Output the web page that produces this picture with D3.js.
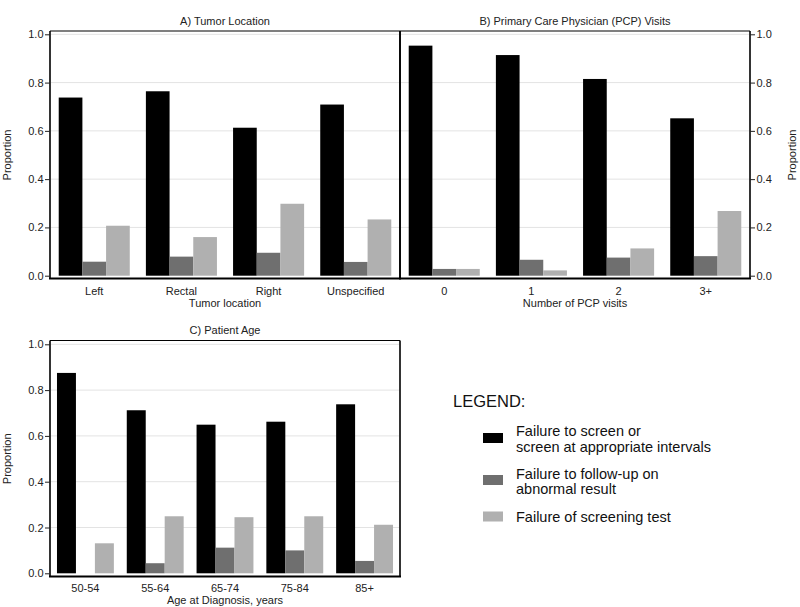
<!DOCTYPE html>
<html lang="en">
<head>
    <meta charset="UTF-8">
    <title>Failure proportions by tumor location, PCP visits and age</title>
    <script src="https://d3js.org/d3.v7.min.js"></script>
    <style>
        body { margin: 0; background: #fff; }
        svg { display: block; font-family: Arial, "Liberation Sans", sans-serif; }
        .grid line { stroke: #e3e3e3; stroke-width: 1; }
        .axis path { display: none; }
        .axis line { stroke: #222; }
        .axis text { font-size: 11px; fill: #222; }
    </style>
</head>
<body>
    <div id="chart"></div>

    <script>
        // series (same order in every panel)
        const seriesNames = [
            ["Failure to screen or", "screen at appropriate intervals"],
            ["Failure to follow-up on", "abnormal result"],
            ["Failure of screening test"]
        ];
        const seriesColors = ["#000000", "#6f6f6f", "#b0b0b0"];
        const yTicks = [0, 0.2, 0.4, 0.6, 0.8, 1.0];

        // A) Tumor location
        const tumorCategories = ["Left", "Rectal", "Right", "Unspecified"];
        const tumorScreen   = [0.738, 0.764, 0.613, 0.709];
        const tumorFollowUp = [0.058, 0.079, 0.095, 0.057];
        const tumorTest     = [0.207, 0.160, 0.298, 0.233];

        // B) PCP visits
        const pcpCategories = ["0", "1", "2", "3+"];
        const pcpScreen   = [0.953, 0.914, 0.815, 0.652];
        const pcpFollowUp = [0.028, 0.066, 0.075, 0.081];
        const pcpTest     = [0.028, 0.022, 0.113, 0.268];

        // C) Patient age
        const ageCategories = ["50-54", "55-64", "65-74", "75-84", "85+"];
        const ageScreen   = [0.875, 0.712, 0.649, 0.662, 0.738];
        const ageFollowUp = [0.000, 0.044, 0.112, 0.100, 0.054];
        const ageTest     = [0.131, 0.249, 0.245, 0.249, 0.212];

        const width = 800, height = 607;

        const svg = d3.select("#chart")
            .append("svg")
            .attr("width", width)
            .attr("height", height);

        function drawPanel(opts) {
            const g = svg.append("g");
            const { x0, x1, top, yZero, yOne, bottom } = opts;

            const x = d3.scaleBand()
                .domain(opts.categories)
                .range([x0, x1])
                .paddingInner(0.185)
                .paddingOuter(0.1);

            const xSub = d3.scaleBand()
                .domain(d3.range(3))
                .range([0, x.bandwidth()]);

            const y = d3.scaleLinear()
                .domain([0, 1])
                .range([yZero, yOne]);

            // gridlines
            g.append("g")
                .attr("class", "grid")
                .selectAll("line")
                .data(yTicks.filter(d => d > 0))
                .join("line")
                .attr("x1", x0 + 1)
                .attr("x2", x1 - 1)
                .attr("y1", d => y(d))
                .attr("y2", d => y(d));

            // bars
            const rows = opts.categories.map((c, i) => ({
                cat: c,
                vals: opts.series.map(s => s[i])
            }));

            g.append("g")
                .selectAll("g")
                .data(rows)
                .join("g")
                .attr("transform", d => `translate(${x(d.cat)},0)`)
                .selectAll("rect")
                .data(d => d.vals.map((v, k) => ({ k, v })))
                .join("rect")
                .attr("x", d => xSub(d.k))
                .attr("width", xSub.bandwidth())
                .attr("y", d => y(d.v))
                .attr("height", d => yZero - y(d.v))
                .attr("fill", d => seriesColors[d.k]);

            // frame
            const frame = g.append("g").attr("fill", "none").attr("stroke", "#000");
            frame.append("line").attr("x1", x0).attr("x2", x1).attr("y1", top).attr("y2", top).attr("stroke-width", 1.2);
            frame.append("line").attr("x1", x0).attr("x2", x0).attr("y1", top).attr("y2", bottom).attr("stroke-width", 1.6);
            frame.append("line").attr("x1", x1).attr("x2", x1).attr("y1", top).attr("y2", bottom).attr("stroke-width", 1.6);
            frame.append("line").attr("x1", x0 - 1).attr("x2", x1 + 1).attr("y1", bottom).attr("y2", bottom).attr("stroke-width", 2.2);

            // y axis
            const axis = (opts.side === "right" ? d3.axisRight(y) : d3.axisLeft(y))
                .tickValues(yTicks)
                .tickFormat(d3.format(".1f"))
                .tickSize(5)
                .tickPadding(1.5);
            g.append("g")
                .attr("class", "axis")
                .attr("transform", `translate(${opts.side === "right" ? x1 : x0},0)`)
                .call(axis);

            // category labels
            g.append("g")
                .selectAll("text")
                .data(opts.categories)
                .join("text")
                .attr("x", d => x(d) + x.bandwidth() / 2)
                .attr("y", opts.labelY)
                .attr("text-anchor", "middle")
                .attr("font-size", 11)
                .attr("fill", "#222")
                .text(d => d);

            // x title
            g.append("text")
                .attr("x", (x0 + x1) / 2)
                .attr("y", opts.xTitleY)
                .attr("text-anchor", "middle")
                .attr("font-size", 11)
                .attr("fill", "#222")
                .text(opts.xTitle);

            // panel title
            g.append("text")
                .attr("x", (x0 + x1) / 2)
                .attr("y", opts.titleY)
                .attr("text-anchor", "middle")
                .attr("font-size", 11)
                .attr("fill", "#222")
                .text(opts.title);

            // y title
            g.append("text")
                .attr("transform", `translate(${opts.yTitleX},${(yZero + yOne) / 2}) rotate(-90)`)
                .attr("text-anchor", "middle")
                .attr("dy", "0.35em")
                .attr("font-size", 11)
                .attr("fill", "#222")
                .text("Proportion");
        }

        drawPanel({
            categories: tumorCategories,
            series: [tumorScreen, tumorFollowUp, tumorTest],
            x0: 50, x1: 400, top: 31, yZero: 275.7, yOne: 34.3, bottom: 278.5,
            side: "left", yTitleX: 7,
            title: "A) Tumor Location", titleY: 25,
            xTitle: "Tumor location", labelY: 294.5, xTitleY: 306.5
        });

        drawPanel({
            categories: pcpCategories,
            series: [pcpScreen, pcpFollowUp, pcpTest],
            x0: 400, x1: 750, top: 31, yZero: 275.7, yOne: 34.3, bottom: 278.5,
            side: "right", yTitleX: 792,
            title: "B) Primary Care Physician (PCP) Visits", titleY: 25,
            xTitle: "Number of PCP visits", labelY: 294.5, xTitleY: 306.5
        });

        drawPanel({
            categories: ageCategories,
            series: [ageScreen, ageFollowUp, ageTest],
            x0: 50, x1: 400, top: 340.5, yZero: 573.3, yOne: 344.3, bottom: 576.5,
            side: "left", yTitleX: 7,
            title: "C) Patient Age", titleY: 334,
            xTitle: "Age at Diagnosis, years", labelY: 592, xTitleY: 604
        });

        // legend
        const legend = svg.append("g").attr("transform", "translate(453,0)");
        legend.append("text")
            .attr("x", 0)
            .attr("y", 407)
            .attr("font-size", 16.5)
            .attr("fill", "#111")
            .text("LEGEND:");

        const legendRows = [
            { swatchY: 433, textY: 436 },
            { swatchY: 475, textY: 478.5 },
            { swatchY: 511.5, textY: 522 }
        ];

        const items = legend.selectAll("g.item")
            .data(seriesNames)
            .join("g")
            .attr("class", "item");

        items.append("rect")
            .attr("x", 30)
            .attr("y", (d, i) => legendRows[i].swatchY)
            .attr("width", 20)
            .attr("height", 10)
            .attr("fill", (d, i) => seriesColors[i]);

        items.append("text")
            .attr("font-size", 14.5)
            .attr("fill", "#111")
            .selectAll("tspan")
            .data((d, i) => d.map((line, j) => ({ line, j, i })))
            .join("tspan")
            .attr("x", 63)
            .attr("y", d => legendRows[d.i].textY + d.j * 15.5)
            .text(d => d.line);
    </script>
</body>
</html>
